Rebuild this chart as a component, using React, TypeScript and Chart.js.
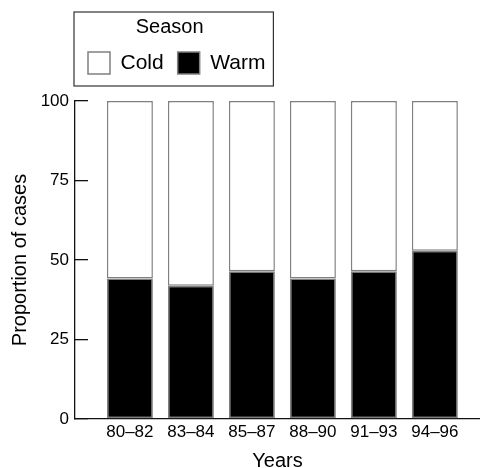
import React, { useEffect, useRef } from "react";
import { Chart, registerables } from "chart.js";

Chart.register(...registerables);

const periods = ["80–82", "83–84", "85–87", "88–90", "91–93", "94–96"];
const warmPct = [44.2, 41.9, 46.5, 44.2, 46.5, 52.9];
const coldPct = [55.8, 58.1, 53.5, 55.8, 53.5, 47.1];
const yMin = 0;
const yMax = 100;
const yStep = 25;

const FONT = "'Liberation Sans', Arial, Helvetica, sans-serif";

const legendShift = {
  id: "legendShift",
  afterLayout(chart: any) {
    const l = chart.legend;
    if (l) {
      const dy = l.top;
      l.top -= dy;
      l.bottom -= dy;
      l.left += 74;
      l.right += 74;
    }
  },
};

const legendFrame = {
  id: "legendFrame",
  afterDraw(chart: any) {
    const l = chart.legend;
    if (!l || !l.legendHitBoxes || !l.legendHitBoxes.length) return;
    const hb = l.legendHitBoxes;
    const first = hb[0];
    const last = hb[hb.length - 1];
    const x1 = first.left - 14;
    const x2 = last.left + last.width + 8;
    const y1 = l.top + 12;
    const y2 = first.top + first.height + 12;
    const ctx = chart.ctx;
    ctx.save();
    ctx.strokeStyle = "#333";
    ctx.lineWidth = 1.2;
    ctx.strokeRect(x1, y1, x2 - x1, y2 - y1);
    ctx.restore();
  },
};

export default function App() {
  const ref = useRef<HTMLCanvasElement>(null);
  useEffect(() => {
    if (!ref.current) return;
    const chart = new Chart(ref.current, {
      type: "bar",
      data: {
        datasets: [
          {
            label: "Warm",
            data: warmPct.map((v, i) => ({ x: i, y: v })),
            backgroundColor: "#000",
            borderColor: "#808080",
            borderWidth: 1.5,
            borderSkipped: false,
          },
          {
            label: "Cold",
            data: coldPct.map((v, i) => ({ x: i, y: v })),
            backgroundColor: "#fff",
            borderColor: "#808080",
            borderWidth: 1.5,
            borderSkipped: false,
          },
        ] as any,
      },
      options: {
        animation: false,
        responsive: false,
        devicePixelRatio: 1,
        layout: { padding: 0 },
        datasets: {
          bar: { categoryPercentage: 0.754, barPercentage: 1 },
        } as any,
        plugins: {
          tooltip: { enabled: false },
          legend: {
            position: "top",
            align: "start",
            reverse: true,
            labels: {
              boxWidth: 22,
              boxHeight: 22,
              padding: 14,
              color: "#000",
              font: { family: FONT, size: 21 },
            },
            title: {
              display: true,
              text: "Season",
              color: "#000",
              font: { family: FONT, size: 20, lineHeight: 1 },
              padding: { top: 17, bottom: 1 },
            },
          },
        },
        scales: {
          x: {
            type: "linear",
            position: "bottom",
            stacked: true,
            offset: false,
            min: -0.9,
            max: 5.74,
            grid: { display: true, drawOnChartArea: false, drawTicks: false, color: "rgba(0,0,0,0)" },
            border: { display: true, color: "#111", width: 1.3 },
            ticks: {
              stepSize: 1,
              includeBounds: false,
              autoSkip: false,
              maxRotation: 0,
              padding: 3,
              color: "#000",
              font: { family: FONT, size: 17 },
              callback: (v: any) =>
                Number.isInteger(v) && v >= 0 && v < periods.length ? periods[v] : "",
            },
            title: {
              display: true,
              text: "Years",
              color: "#000",
              font: { family: FONT, size: 20 },
              padding: { top: 0, bottom: -5 },
            },
            afterFit: (s: any) => {
              s.height = 49;
            },
          } as any,
          y: {
            stacked: true,
            min: yMin,
            max: yMax,
            grid: { drawOnChartArea: false, drawTicks: true, tickLength: -13, color: "#111", lineWidth: 1.3 },
            border: { display: true, color: "#111", width: 1.3 },
            ticks: {
              stepSize: yStep,
              padding: 19,
              color: "#000",
              font: { family: FONT, size: 17 },
            },
            title: {
              display: true,
              text: "Proportion of cases",
              color: "#000",
              font: { family: FONT, size: 20 },
              padding: { top: 8.5, bottom: 0 },
            },
            afterFit: (s: any) => {
              s.width = 75;
              s.paddingTop = 101;
            },
          } as any,
        },
      },
      plugins: [legendShift, legendFrame],
    });
    return () => chart.destroy();
  }, []);
  return (
    <div style={{ position: "fixed", left: 0, top: 0, width: 480, height: 468, background: "#fff" }}>
      <canvas ref={ref} width={480} height={468} />
    </div>
  );
}
